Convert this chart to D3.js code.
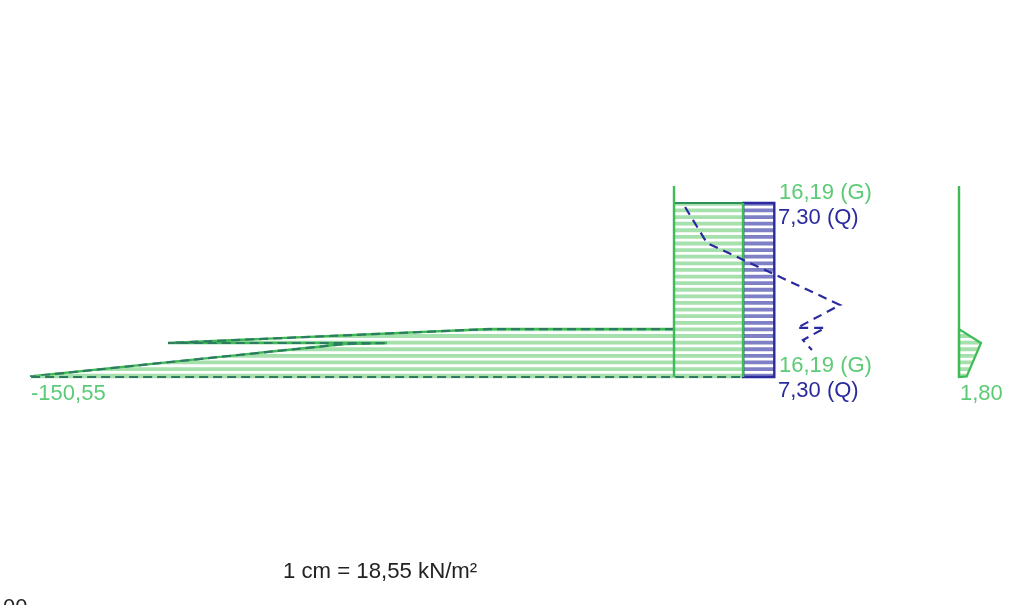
<!DOCTYPE html>
<html>
<head>
<meta charset="utf-8">
<script src="https://cdn.jsdelivr.net/npm/d3@7"></script>
<style>
  html, body { margin: 0; padding: 0; background: #fff; overflow: hidden; }
  text { font-family: "Liberation Sans", Arial, sans-serif; font-size: 22px; }
</style>
</head>
<body>
<div id="chart"></div>
<script>
var svgWidth = 1011;
var svgHeight = 605;

// values in kN/m2, depth in m
var wallDepth = [0, 10];
var loadTop = 0.89;

// earth pressure on the left side
var leftDepth = [7.49, 7.49, 8.22, 8.22, 8.27, 9.97, 10, 10];
var leftValue = [0, -43.1, -118.5, -67.2, -77, -150.55, -150.55, 0];

// permanent and variable loads
var loadG = 16.19;
var loadQ = 7.30;

// dashed variable load line
var dashDepth = [1.10, 2.98, 6.23, 7.43, 7.43, 8.06, 8.59];
var dashValue = [2.6, 7.7, 38.9, 28.8, 35.4, 30.2, 32.3];

// small diagram on the right
var rightDepth = [7.49, 8.22, 9.97, 10, 7.49];
var rightValue = [0, 5.15, 1.80, 0, 0];

var green = "#3dbb55";
var hatchGreen = "#a6e0ac";
var blue = "#2b2b9e";
var hatchBlue = "#7f7fc6";
var darkDash = "#2f7a63";

var xScale = d3.scaleLinear().domain([0, 100]).range([674, 1101]);
var xRight = d3.scaleLinear().domain([0, 100]).range([959, 1386]);
var yScale = d3.scaleLinear().domain([0, 10]).range([186, 377]);

var svg = d3.select("#chart")
  .append("svg")
  .attr("width", svgWidth)
  .attr("height", svgHeight);

var defs = svg.append("defs");
defs.append("filter")
  .attr("id", "soft")
  .append("feGaussianBlur")
  .attr("stdDeviation", 0.5);

var chartGroup = svg.append("g").attr("filter", "url(#soft)");

// hatch lines, counted upward from the bottom of the wall
var hatchDepth = d3.range(9.93, loadTop, -0.346);

function hatch(id, pathData, color, x0, x1) {
  defs.append("clipPath").attr("id", id).append("path").attr("d", pathData);
  chartGroup.append("g")
    .attr("clip-path", `url(#${id})`)
    .selectAll("line")
    .data(hatchDepth)
    .enter()
    .append("line")
    .attr("x1", x0)
    .attr("x2", x1)
    .attr("y1", d => yScale(d))
    .attr("y2", d => yScale(d))
    .attr("stroke", color)
    .attr("stroke-width", 3.8);
}

var leftLine = d3.line()
  .x((d, i) => xScale(leftValue[i]))
  .y((d, i) => yScale(d));
var rightLine = d3.line()
  .x((d, i) => xRight(rightValue[i]))
  .y((d, i) => yScale(d));
var dashLine = d3.line()
  .x((d, i) => xScale(dashValue[i]))
  .y((d, i) => yScale(d));

var rectG = d3.line()([
  [xScale(0), yScale(loadTop)], [xScale(loadG), yScale(loadTop)],
  [xScale(loadG), yScale(10)], [xScale(0), yScale(10)]
]) + "Z";
var rectQ = d3.line()([
  [xScale(loadG), yScale(loadTop)], [xScale(loadG + loadQ), yScale(loadTop)],
  [xScale(loadG + loadQ), yScale(10)], [xScale(loadG), yScale(10)]
]) + "Z";

hatch("clipLeft", leftLine(leftDepth) + "Z", hatchGreen, 0, xScale(0));
hatch("clipG", rectG, hatchGreen, xScale(0), xScale(loadG));
hatch("clipQ", rectQ, hatchBlue, xScale(loadG), xScale(loadG + loadQ));
hatch("clipRight", rightLine(rightDepth) + "Z", hatchGreen, xRight(0), xRight(6));

// outlines
var outlinePath = leftLine(leftDepth.slice(0, 7));
var bottomPath = d3.line()([
  [xScale(leftValue[6]), yScale(10)], [xScale(loadG), yScale(10)]
]);

chartGroup.append("path")
  .attr("d", outlinePath)
  .attr("fill", "none")
  .attr("stroke", green)
  .attr("stroke-width", 2.4);

chartGroup.append("path")
  .attr("d", outlinePath)
  .attr("fill", "none")
  .attr("stroke", darkDash)
  .attr("stroke-width", 2.2)
  .attr("stroke-dasharray", "9,5");

chartGroup.append("path")
  .attr("d", bottomPath)
  .attr("fill", "none")
  .attr("stroke", hatchGreen)
  .attr("stroke-width", 2.6);

chartGroup.append("path")
  .attr("d", bottomPath)
  .attr("fill", "none")
  .attr("stroke", darkDash)
  .attr("stroke-width", 2.2)
  .attr("stroke-dasharray", "9,5");

chartGroup.append("path")
  .attr("d", rightLine(rightDepth))
  .attr("fill", "none")
  .attr("stroke", green)
  .attr("stroke-width", 2.2);

// load rectangles
chartGroup.append("path")
  .attr("d", rectQ)
  .attr("fill", "none")
  .attr("stroke", blue)
  .attr("stroke-width", 2.4);

chartGroup.append("line")
  .attr("x1", xScale(0)).attr("x2", xScale(loadG))
  .attr("y1", yScale(loadTop)).attr("y2", yScale(loadTop))
  .attr("stroke", "#2f8f5a")
  .attr("stroke-width", 2.2);

chartGroup.append("line")
  .attr("x1", xScale(loadG)).attr("x2", xScale(loadG))
  .attr("y1", yScale(loadTop)).attr("y2", yScale(10))
  .attr("stroke", green)
  .attr("stroke-width", 2.4);

// wall lines
chartGroup.selectAll("line.wall")
  .data([xScale, xRight])
  .enter()
  .append("line")
  .attr("class", "wall")
  .attr("x1", d => d(0))
  .attr("x2", d => d(0))
  .attr("y1", yScale(wallDepth[0]))
  .attr("y2", yScale(wallDepth[1]))
  .attr("stroke", green)
  .attr("stroke-width", 2.4);

chartGroup.append("path")
  .attr("d", dashLine(dashDepth))
  .attr("fill", "none")
  .attr("stroke", blue)
  .attr("stroke-width", 2.2)
  .attr("stroke-dasharray", "9,6");

// labels
var labelText = ["16,19 (G)", "7,30 (Q)", "16,19 (G)", "7,30 (Q)", "-150,55", "1,80", "1 cm = 18,55 kN/m\u00b2", "00"];
var labelX = [779, 778, 779, 778, 31, 960, 283, 3];
var labelY = [199, 224, 372, 397, 400, 400, 578, 614];
var labelColor = ["#5ccb75", blue, "#5ccb75", blue, "#5ccb75", "#5ccb75", "#222", "#222"];

chartGroup.selectAll("text")
  .data(labelText)
  .enter()
  .append("text")
  .attr("x", (d, i) => labelX[i])
  .attr("y", (d, i) => labelY[i])
  .attr("fill", (d, i) => labelColor[i])
  .style("font-size", (d, i) => i == 6 ? "22.2px" : "22px")
  .text(d => d);
</script>
</body>
</html>
